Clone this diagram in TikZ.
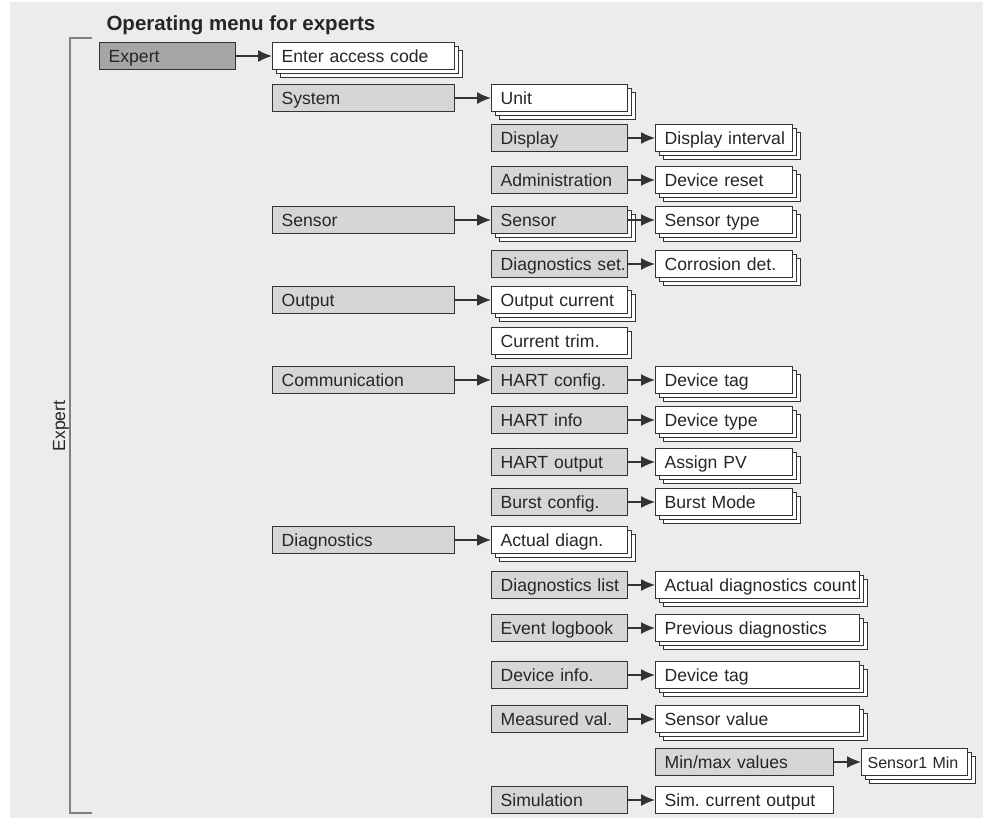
\documentclass[tikz,border=0pt]{standalone}
\usepackage{fontspec}
\setmainfont{Liberation Sans}
\usetikzlibrary{arrows.meta,shadows}
\tikzset{>={Latex[length=14pt,width=12pt]}}
\definecolor{paperColour}{RGB}{236,236,236}
\definecolor{expertColour}{RGB}{166,166,166}
\definecolor{menuColour}{RGB}{214,214,214}
\definecolor{boxLine}{RGB}{51,51,51}
\definecolor{textColour}{RGB}{38,38,38}
\definecolor{bracketColour}{RGB}{128,128,128}

\begin{document}
\begin{tikzpicture}[x=1pt, y=-1pt,
		box/.style={draw=boxLine, line width=1.3pt, anchor=west, minimum height=27pt,
			inner xsep=9pt, inner ysep=0pt, text height=14.5pt, text depth=2pt,
			align=left, text=textColour, font=\fontsize{17.6}{20}\selectfont\frenchspacing,
			execute at begin node={\hbox\bgroup}, execute at end node={\egroup}},
		expertbox/.style={box, fill=expertColour},
		menubox/.style={box, fill=menuColour},
		parambox/.style={box, fill=white},
		colA/.style={text width=118pt},
		colB/.style={text width=164pt},
		colC/.style={text width=118pt},
		colD/.style={text width=119pt},
		colWide/.style={text width=186pt},
		stackbox/.style={
			general shadow={shadow xshift=8pt, shadow yshift=-8pt, fill=white, draw=boxLine, line width=1.3pt},
			general shadow={shadow xshift=4pt, shadow yshift=-4pt, fill=white, draw=boxLine, line width=1.3pt}},
		stackone/.style={
			general shadow={shadow xshift=4pt, shadow yshift=-4pt, fill=white, draw=boxLine, line width=1.3pt}},
		link/.style={->, line width=1.3pt, draw=boxLine}]
	\useasboundingbox (0,0) rectangle (986,823);

	% the grey sheet
	\fill[paperColour] (10,2) rectangle (983,818);

	% the heading and the bracket on the left
	\node[anchor=base west, text=textColour, font=\fontsize{20.5}{24}\selectfont\bfseries] (title) at (103,30) {Operating menu for experts};
	\draw[bracketColour, line width=1.3pt] (92,38) -- (70,38) -- (70,813) -- (92,813);
	\node[rotate=90, text=textColour, font=\fontsize{17.6}{20}\selectfont] (side) at (61,426) {Expert};

	% first level
	\node[expertbox, colA] (expert) at (99,56) {Expert};

	% second level
	\node[parambox, colB, stackbox] (access) at (272,56) {Enter access code};
	\node[menubox, colB] (system) at (272,98) {System};
	\node[menubox, colB] (sensor) at (272,220) {Sensor};
	\node[menubox, colB] (output) at (272,300) {Output};
	\node[menubox, colB] (comm) at (272,380) {Communication};
	\node[menubox, colB] (diag) at (272,540) {Diagnostics};

	% third level
	\node[parambox, colC, stackbox] (unit) at (491,98) {Unit};
	\node[menubox, colC] (display) at (491,138) {Display};
	\node[menubox, colC] (admin) at (491,180) {Administration};
	\node[menubox, colC, stackbox] (sensorsub) at (491,220) {Sensor};
	\node[menubox, colC] (diagset) at (491,264) {Diagnostics set.};
	\node[parambox, colC, stackbox] (outcur) at (491,300) {Output current};
	\node[parambox, colC, stackone] (curtrim) at (491,341) {Current trim.};
	\node[menubox, colC] (hartcfg) at (491,380) {HART config.};
	\node[menubox, colC] (hartinfo) at (491,420) {HART info};
	\node[menubox, colC] (hartout) at (491,462) {HART output};
	\node[menubox, colC] (burstcfg) at (491,502) {Burst config.};
	\node[parambox, colC, stackbox] (actdiag) at (491,540) {Actual diagn.};
	\node[menubox, colC] (diaglist) at (491,585) {Diagnostics list};
	\node[menubox, colC] (logbook) at (491,628) {Event logbook};
	\node[menubox, colC] (devinfo) at (491,675) {Device info.};
	\node[menubox, colC] (measval) at (491,719) {Measured val.};
	\node[menubox, colC] (simul) at (491,800) {Simulation};

	% fourth level
	\node[parambox, colD, stackbox] (dispint) at (655,138) {Display interval};
	\node[parambox, colD, stackbox] (devreset) at (655,180) {Device reset};
	\node[parambox, colD, stackbox] (senstype) at (655,220) {Sensor type};
	\node[parambox, colD, stackbox] (corrdet) at (655,264) {Corrosion det.};
	\node[parambox, colD, stackbox] (devtag) at (655,380) {Device tag};
	\node[parambox, colD, stackbox] (devtype) at (655,420) {Device type};
	\node[parambox, colD, stackbox] (assignpv) at (655,462) {Assign PV};
	\node[parambox, colD, stackbox] (burstmode) at (655,502) {Burst Mode};
	\node[parambox, colWide, stackbox] (diagcount) at (655,585) {Actual diagnostics count};
	\node[parambox, colWide, stackbox] (prevdiag) at (655,628) {Previous diagnostics};
	\node[parambox, colWide, stackbox] (infotag) at (655,675) {Device tag};
	\node[parambox, colWide, stackbox] (sensval) at (655,719) {Sensor value};
	\node[menubox, text width=160pt] (minmax) at (655,762) {Min/max values};
	\node[parambox, text width=160pt] (simout) at (655,800) {Sim. current output};

	% fifth level
	\node[parambox, stackbox, inner xsep=6pt, text width=94pt, font=\fontsize{16}{19}\selectfont] (sensmin) at (861,762) {Sensor1 Min};

	% the arrows
	\foreach \from/\to in {expert/access, system/unit, display/dispint, admin/devreset,
		sensor/sensorsub, sensorsub/senstype, diagset/corrdet, output/outcur,
		comm/hartcfg, hartcfg/devtag, hartinfo/devtype, hartout/assignpv,
		burstcfg/burstmode, diag/actdiag, diaglist/diagcount, logbook/prevdiag,
		devinfo/infotag, measval/sensval, minmax/sensmin, simul/simout}
		\draw[link] (\from.east) -- (\to.west);
\end{tikzpicture}
\end{document}
